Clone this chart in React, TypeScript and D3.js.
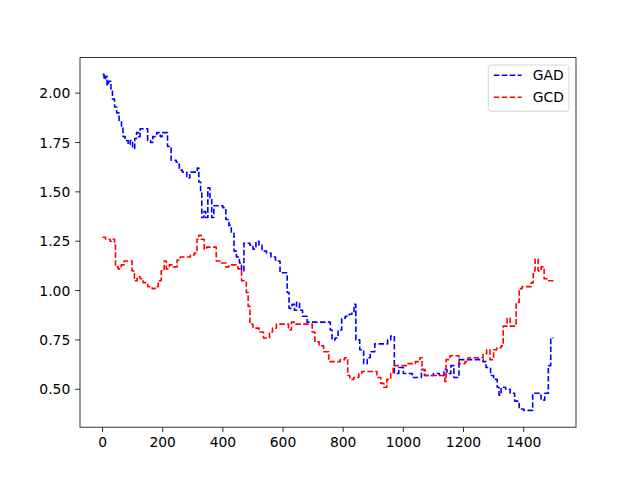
import React from "react";
import * as d3 from "d3";

// GAD series: step breakpoints (x index, value)
const gadX = [0,5,10,15,20,28,33,40,47,55,63,68,75,85,92,100,107,113,120,125,150,160,167,180,192,198,212,216,228,245,255,265,280,290,305,315,320,326,330,337,343,350,357,363,370,385,400,410,420,428,437,445,455,462,470,490,500,510,520,530,545,560,575,590,608,614,620,630,638,645,655,665,680,745,757,763,773,783,795,807,820,829,836,842,855,868,880,890,905,948,958,970,985,1000,1030,1050,1060,1070,1100,1120,1135,1145,1158,1168,1185,1265,1275,1290,1300,1312,1318,1325,1340,1355,1370,1385,1400,1430,1452,1458,1470,1482,1490,1499];
const gadY = [2.095,2.07,2.085,2.04,2.06,2.02,1.97,1.93,1.90,1.86,1.83,1.78,1.76,1.74,1.76,1.72,1.77,1.80,1.78,1.82,1.76,1.75,1.78,1.80,1.78,1.80,1.80,1.73,1.66,1.65,1.61,1.60,1.57,1.60,1.60,1.62,1.55,1.50,1.37,1.40,1.37,1.52,1.47,1.37,1.43,1.43,1.42,1.36,1.33,1.29,1.20,1.17,1.14,1.10,1.24,1.23,1.21,1.25,1.23,1.20,1.19,1.17,1.15,1.09,1.09,0.99,0.91,0.93,0.90,0.94,0.90,0.87,0.84,0.84,0.80,0.75,0.76,0.80,0.86,0.87,0.88,0.89,0.93,0.75,0.70,0.63,0.66,0.69,0.73,0.75,0.77,0.58,0.61,0.58,0.56,0.56,0.60,0.57,0.58,0.57,0.60,0.58,0.62,0.56,0.65,0.64,0.61,0.57,0.55,0.51,0.47,0.51,0.50,0.48,0.44,0.40,0.393,0.48,0.47,0.445,0.48,0.62,0.76,0.76];

// GCD series: step breakpoints (x index, value)
const gcdX = [0,10,18,25,30,40,43,52,62,72,92,98,106,115,125,135,150,165,175,185,195,205,212,222,235,248,258,285,292,305,314,320,328,338,346,368,378,395,410,420,450,462,478,484,490,500,520,535,548,555,565,578,600,618,628,640,690,697,706,720,735,752,780,790,805,815,822,835,852,862,912,925,935,945,958,966,990,1010,1040,1055,1062,1072,1135,1138,1142,1155,1175,1185,1205,1215,1265,1277,1288,1300,1311,1325,1332,1345,1355,1375,1385,1395,1425,1432,1438,1448,1458,1468,1480,1499];
const gcdY = [1.27,1.26,1.26,1.25,1.26,1.24,1.12,1.11,1.13,1.15,1.15,1.10,1.05,1.07,1.06,1.04,1.02,1.01,1.02,1.05,1.10,1.15,1.11,1.13,1.12,1.155,1.17,1.17,1.18,1.19,1.26,1.28,1.26,1.21,1.22,1.22,1.15,1.14,1.12,1.13,1.11,1.05,0.99,0.92,0.83,0.81,0.79,0.76,0.76,0.79,0.81,0.83,0.83,0.80,0.84,0.83,0.83,0.79,0.74,0.72,0.69,0.64,0.64,0.65,0.66,0.57,0.55,0.56,0.58,0.59,0.56,0.53,0.51,0.55,0.58,0.62,0.62,0.63,0.64,0.66,0.60,0.57,0.57,0.54,0.65,0.67,0.67,0.63,0.64,0.66,0.68,0.70,0.65,0.70,0.71,0.72,0.82,0.86,0.82,0.94,1.01,1.02,1.04,1.10,1.16,1.10,1.12,1.06,1.05,1.05];

const xTicks = [0, 200, 400, 600, 800, 1000, 1200, 1400];
const yTicks = [0.5, 0.75, 1.0, 1.25, 1.5, 1.75, 2.0];
const seriesNames = ["GAD", "GCD"];
const seriesColors = ["#0000ff", "#ff0000"];

const W = 640, H = 480;
const L = 80, R = 576, T = 57.6, B = 427.2;
const FONT = "DejaVu Sans, sans-serif";
const FS = 13.89;

export default function App() {
  const xMin = 0, xMax = 1499;
  const xPad = (xMax - xMin) * 0.05;
  const allY = gadY.concat(gcdY);
  const yMin = d3.min(allY) as number, yMax = d3.max(allY) as number;
  const yPad = (yMax - yMin) * 0.05;
  const x = d3.scaleLinear().domain([xMin - xPad, xMax + xPad]).range([L, R]);
  const y = d3.scaleLinear().domain([yMin - yPad, yMax + yPad]).range([B, T]);

  const line = d3.line<[number, number]>()
    .x((d) => x(d[0]))
    .y((d) => y(d[1]))
    .curve(d3.curveStepAfter);

  const series = [
    gadX.map((v, i) => [v, gadY[i]] as [number, number]),
    gcdX.map((v, i) => [v, gcdY[i]] as [number, number]),
  ];

  const legL = 488.3, legR = 569, legT = 65, legB = 111.3;
  const rowY = [75.3, 97.3];

  return (
    <svg width={W} height={H} style={{ position: "absolute", left: 0, top: 0, background: "#fff" }} fontFamily={FONT}>
      <rect x={0} y={0} width={W} height={H} fill="#fff" />
      <defs>
        <clipPath id="plotclip">
          <rect x={L} y={T} width={R - L} height={B - T} />
        </clipPath>
      </defs>
      <g clipPath="url(#plotclip)">
        {series.map((s, i) => (
          <path key={i} d={line(s) || ""} fill="none" stroke={seriesColors[i]}
            strokeWidth={1.6} strokeDasharray="5.55,2.4" strokeLinejoin="round" />
        ))}
      </g>
      <rect x={L} y={T} width={R - L} height={B - T} fill="none" stroke="#000" strokeWidth={0.8} />
      {xTicks.map((t) => (
        <g key={t}>
          <line x1={x(t)} x2={x(t)} y1={B} y2={B + 4.86} stroke="#000" strokeWidth={0.8} />
          <text x={x(t)} y={B + 9.72 + 10.2} textAnchor="middle" fontSize={FS} fill="#000">{t}</text>
        </g>
      ))}
      {yTicks.map((t) => (
        <g key={t}>
          <line x1={L - 4.86} x2={L} y1={y(t)} y2={y(t)} stroke="#000" strokeWidth={0.8} />
          <text x={L - 9.72} y={y(t) + 5.05} textAnchor="end" fontSize={FS} fill="#000">{t.toFixed(2)}</text>
        </g>
      ))}
      <rect x={legL} y={legT} width={legR - legL} height={legB - legT} rx={2.8} ry={2.8}
        fill="#fff" fillOpacity={0.8} stroke="#cccccc" strokeWidth={0.8} />
      {seriesNames.map((n, i) => (
        <g key={n}>
          <line x1={legL + 5.56} x2={legL + 5.56 + 27.8} y1={rowY[i]} y2={rowY[i]}
            stroke={seriesColors[i]} strokeWidth={1.5} strokeDasharray="5.55,2.4" />
          <text x={legL + 5.56 + 27.8 + 11.1} y={rowY[i] + 5.05} fontSize={FS} fill="#000">{n}</text>
        </g>
      ))}
    </svg>
  );
}
